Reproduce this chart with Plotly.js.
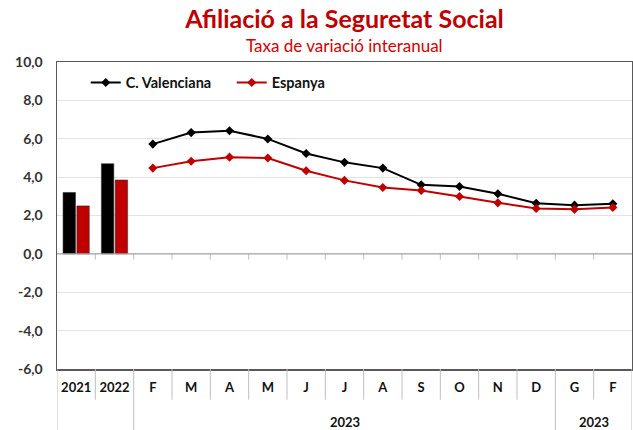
<!DOCTYPE html>
<html>
<head>
<meta charset="utf-8">
<script src="https://cdn.plot.ly/plotly-3.0.1.min.js"></script>
<style>html,body{margin:0;padding:0;background:#fff;}#chart{width:633px;height:430px;}</style>
</head>
<body>
<div id="chart"></div>
<script>
// ---- data ----
const periods = ['2021','2022','F-a','M-a','A-a','M-b','J-a','J-b','A-b','S','O','N','D','G','F-b'];
const tickLabels = ['2021','2022','F','M','A','M','J','J','A','S','O','N','D','G','F'];
const annualPeriods = ['2021','2022'];
const monthPeriods = ['F-a','M-a','A-a','M-b','J-a','J-b','A-b','S','O','N','D','G','F-b'];
const valenciaAnnual = [3.2, 4.7];
const spainAnnual = [2.5, 3.85];
const valenciaMonthly = [5.72, 6.32, 6.42, 5.99, 5.23, 4.77, 4.47, 3.60, 3.51, 3.13, 2.64, 2.54, 2.61];
const spainMonthly = [4.47, 4.83, 5.04, 5.00, 4.33, 3.83, 3.46, 3.30, 2.99, 2.66, 2.37, 2.32, 2.42];
const yTickValues = [-6, -4, -2, 0, 2, 4, 6, 8, 10];
const yTickLabels = ['-6,0', '-4,0', '-2,0', '0,0', '2,0', '4,0', '6,0', '8,0', '10,0'];
const yearGroupLabels = ['2023', '2023'];
const yearGroupStart = ['F-a', 'G'];
const yearGroupEnd = ['D', 'F-b'];
const seriesNames = ['C. Valenciana', 'Espanya'];

// ---- style ----
const BLACK = '#000000';
const RED = '#C00000';
const FONT = 'Lato, "Open Sans", sans-serif';
const idx = p => periods.indexOf(p);

const traces = [
  {type:'bar', x:annualPeriods, y:valenciaAnnual, name:seriesNames[0], showlegend:false,
   marker:{color:BLACK, line:{color:'#222', width:0.5}}, hoverinfo:'y'},
  {type:'bar', x:annualPeriods, y:spainAnnual, name:seriesNames[1], showlegend:false,
   marker:{color:RED, line:{color:'#222', width:0.5}}, hoverinfo:'y'},
  {type:'scatter', mode:'lines+markers', x:monthPeriods, y:valenciaMonthly, name:seriesNames[0],
   line:{color:BLACK, width:2}, marker:{symbol:'diamond', size:7, color:BLACK}},
  {type:'scatter', mode:'lines+markers', x:monthPeriods, y:spainMonthly, name:seriesNames[1],
   line:{color:RED, width:2}, marker:{symbol:'diamond', size:7, color:RED}}
];

// separators & zero-line ticks
const shapes = [];
const sepColor = '#BFBFBF';
const longBounds = [-0.5, idx('2022')+0.5, idx('D')+0.5, periods.length-0.5];
for (let i = 0; i <= periods.length; i++) {
  const b = i - 0.5;
  const isLong = longBounds.includes(b);
  if (b > -0.5 && b < periods.length-0.5) {
    shapes.push({type:'line', xref:'x', yref:'y', x0:b, x1:b, y0:0, y1:-0.3,
      line:{color:sepColor, width:1}, layer:'above'});
  }
  shapes.push({type:'line', xref:'x', yref:'paper', x0:b, x1:b, y0:0, y1: isLong ? -0.25 : -0.10,
    line:{color:sepColor, width:1}});
}
shapes.push({type:'line', xref:'paper', yref:'y', x0:0, x1:1, y0:0, y1:0,
  line:{color:'#A6A6A6', width:1.2}, layer:'above'});

const annotations = [
  {text:'Taxa de variació interanual', xref:'paper', yref:'paper', x:0.5, y:1 + 16/307,
   showarrow:false, font:{family:FONT, size:17, color:'#D40000'}, yanchor:'middle'}
];
for (let g = 0; g < yearGroupLabels.length; g++) {
  annotations.push({text:'<b>'+yearGroupLabels[g]+'</b>', xref:'x', yref:'paper',
    x:(idx(yearGroupStart[g]) + idx(yearGroupEnd[g]))/2, y:-0.173, yanchor:'middle',
    showarrow:false, font:{family:FONT, size:13, color:'#111'}});
}

const layout = {
  width:633, height:430,
  margin:{l:57, r:1, t:62, b:61},
  paper_bgcolor:'#fff', plot_bgcolor:'#fff',
  title:{text:'<b>Afiliació a la Seguretat Social</b>', x:0.5, xref:'paper', y:1-19/430, yref:'container',
    yanchor:'middle', font:{family:FONT, size:25, color:'#C00000'}},
  barmode:'group', bargap:0.28, bargroupgap:0.1,
  showlegend:true,
  legend:{orientation:'h', x:0.05, y:0.985, xanchor:'left', yanchor:'top',
    font:{family:FONT, size:14.5, color:'#111', weight:'bold'}, bgcolor:'rgba(0,0,0,0)',
    itemwidth:30, entrywidth:101, tracegroupgap:0},
  xaxis:{type:'category', categoryorder:'array', categoryarray:periods, range:[-0.5, periods.length-0.5],
    tickvals:periods, ticktext:tickLabels.map(t=>'<b>'+t+'</b>'), ticks:'', showgrid:false,
    showline:true, linecolor:'#595959', linewidth:1.5, mirror:true, zeroline:false,
    tickfont:{family:FONT, size:13, color:'#111'}, ticklabelstandoff:6, fixedrange:true},
  yaxis:{range:[-6,10], tickvals:yTickValues, ticktext:yTickLabels.map(t=>'<b>'+t+'</b>'),
    showgrid:true, gridcolor:'#E3E3E3', gridwidth:1,
    zeroline:false, showline:true, linecolor:'#595959', linewidth:1.5, mirror:true, ticks:'',
    tickfont:{family:FONT, size:14, color:'#333'}, ticklabelstandoff:10, fixedrange:true},
  shapes:shapes,
  annotations:annotations
};

Plotly.newPlot('chart', traces, layout, {displayModeBar:false, staticPlot:true});
</script>
</body>
</html>
